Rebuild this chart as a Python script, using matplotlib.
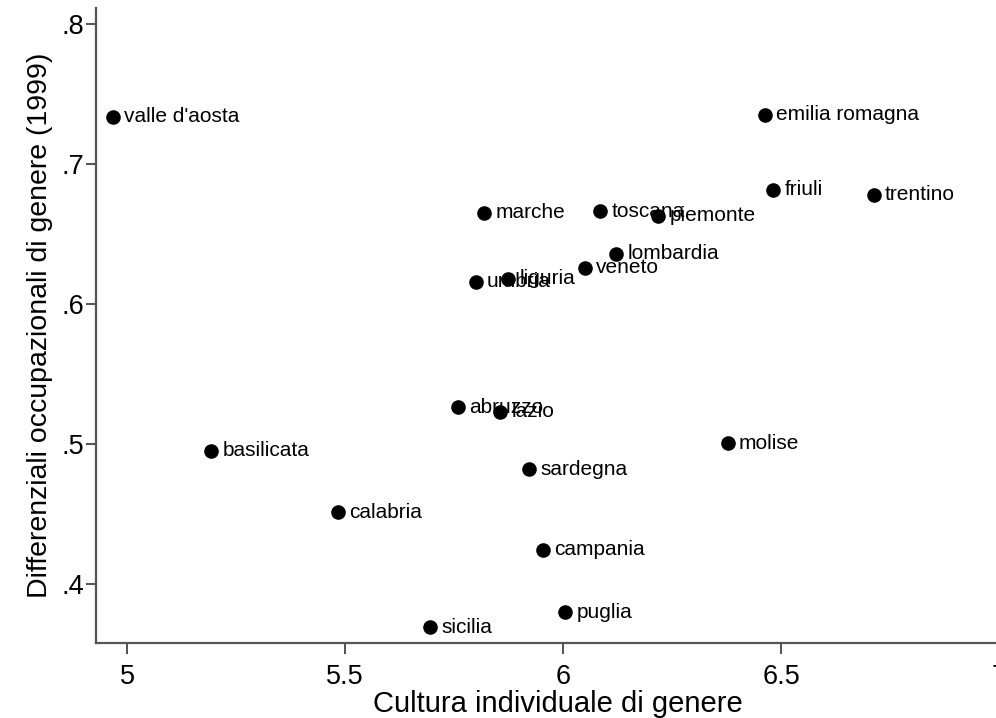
import matplotlib
matplotlib.use("Agg")
import matplotlib.pyplot as plt

plt.rcParams['font.family'] = ['Liberation Sans', 'DejaVu Sans']

# Regional values: individual gender culture vs occupational gender gaps (1999)
regions = ["valle d'aosta", "basilicata", "calabria", "sicilia", "abruzzo",
           "umbria", "marche", "lazio", "liguria", "sardegna", "campania",
           "puglia", "veneto", "toscana", "lombardia", "piemonte",
           "emilia romagna", "friuli", "molise", "trentino"]
cultura = [4.968, 5.193, 5.484, 5.695, 5.759,
           5.800, 5.819, 5.856, 5.874, 5.922, 5.954,
           6.005, 6.050, 6.085, 6.122, 6.218,
           6.463, 6.482, 6.378, 6.713]
differenziali = [0.7336, 0.4950, 0.4514, 0.3693, 0.5264,
                 0.6157, 0.6650, 0.5229, 0.6179, 0.4821, 0.4243,
                 0.3800, 0.6257, 0.6664, 0.6357, 0.6629,
                 0.7350, 0.6814, 0.5007, 0.6779]

xticks = [5, 5.5, 6, 6.5, 7]
xticklabels = ["5", "5.5", "6", "6.5", "7"]
yticks = [0.4, 0.5, 0.6, 0.7, 0.8]
yticklabels = [".4", ".5", ".6", ".7", ".8"]

fig = plt.figure(figsize=(9.96, 7.18), dpi=100)
ax = fig.add_axes([0.0961, 0.1045, 0.9288, 0.8844])

ax.scatter(cultura, differenziali, s=90, color='black', zorder=3)
for name, x, y in zip(regions, cultura, differenziali):
    ax.annotate(name, (x, y), xytext=(8, 0), textcoords='offset points',
                va='center', ha='left', fontsize=15, color='black')

ax.set_xlim(4.928, 7.05)
ax.set_ylim(0.3579, 0.8114)
ax.set_xticks(xticks)
ax.set_xticklabels(xticklabels)
ax.set_yticks(yticks)
ax.set_yticklabels(yticklabels)

for side in ['top', 'right']:
    ax.spines[side].set_visible(False)
for side in ['left', 'bottom']:
    ax.spines[side].set_color('#555555')
    ax.spines[side].set_linewidth(1.6)

ax.tick_params(axis='x', length=8, width=1.2, color='#333333',
               labelsize=19.5, pad=7)
ax.tick_params(axis='y', length=7, width=1.2, color='#333333',
               labelsize=19.5, pad=1.5)

ax.set_xlabel("Cultura individuale di genere", fontsize=21, labelpad=0)
ax.set_ylabel("Differenziali occupazionali di genere (1999)", fontsize=20.5,
              labelpad=6)

fig.savefig("out.png", dpi=100)
